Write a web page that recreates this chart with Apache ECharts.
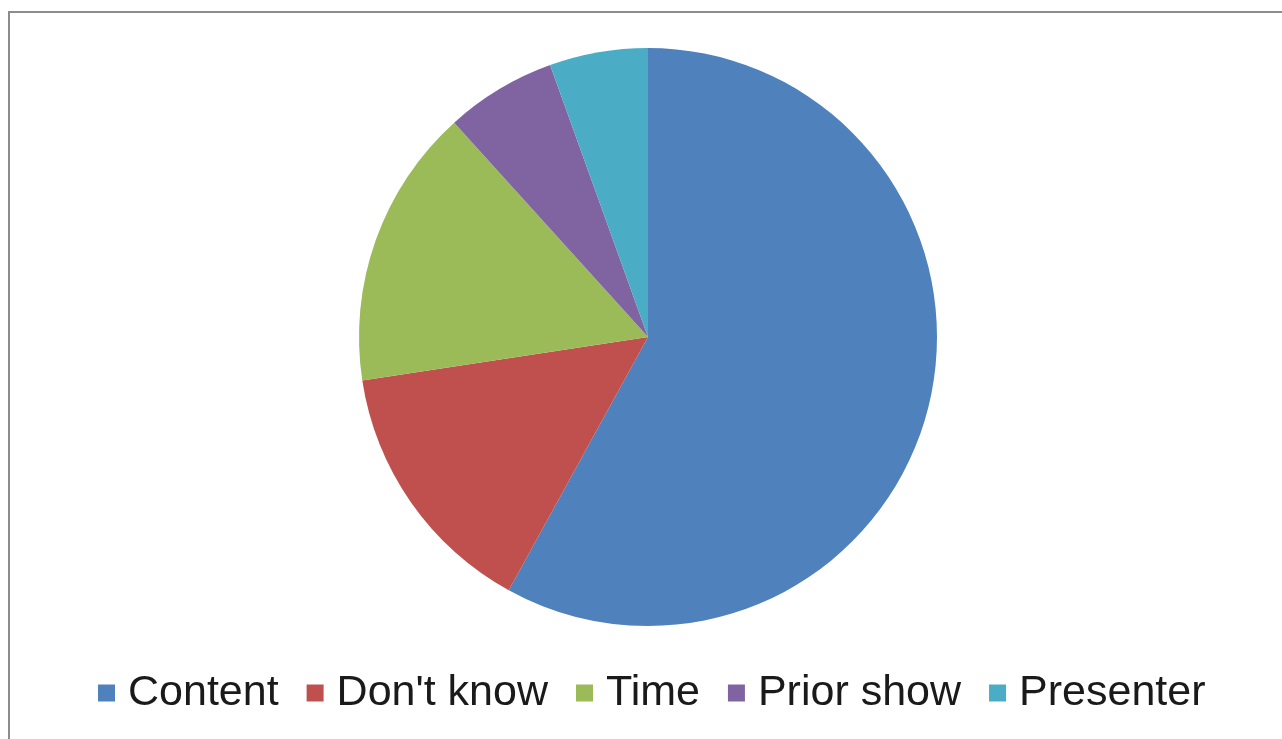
<!DOCTYPE html>
<html><head><meta charset="utf-8">
<script src="https://cdn.jsdelivr.net/npm/echarts@6/dist/echarts.min.js"></script>
<style>html,body{margin:0;padding:0;background:#fff}#c{width:1282px;height:739px}</style>
</head><body><div id="c"></div>
<script>
const categories = ['Content', "Don't know", 'Time', 'Prior show', 'Presenter'];
const values = [58.0, 14.6, 15.7, 6.2, 5.5];
const colors = ['#4F81BD', '#C0504D', '#9BBB59', '#8064A2', '#4BACC6'];

const chart = echarts.init(document.getElementById('c'));
chart.setOption({
  animation: false,
  graphic: [{
    type: 'rect', shape: {x: 9, y: 12, width: 1290, height: 740},
    style: {fill: 'none', stroke: '#8c8c8c', lineWidth: 2}
  }],
  legend: {
    data: categories,
    top: 671,
    left: 98,
    padding: 0,
    itemWidth: 17, itemHeight: 17,
    itemGap: 28,
    icon: 'rect',
    textStyle: {fontFamily: 'Liberation Sans, Arial', fontSize: 43, lineHeight: 44, color: '#1a1a1a', padding: [0,0,0,8]}
  },
  series: [{
    type: 'pie',
    center: [648, 337],
    radius: 289,
    startAngle: 90,
    clockwise: true,
    label: {show: false},
    labelLine: {show: false},
    itemStyle: {borderWidth: 0},
    emphasis: {disabled: true},
    data: categories.map((n, i) => ({name: n, value: values[i], itemStyle: {color: colors[i]}}))
  }]
});
</script></body></html>
